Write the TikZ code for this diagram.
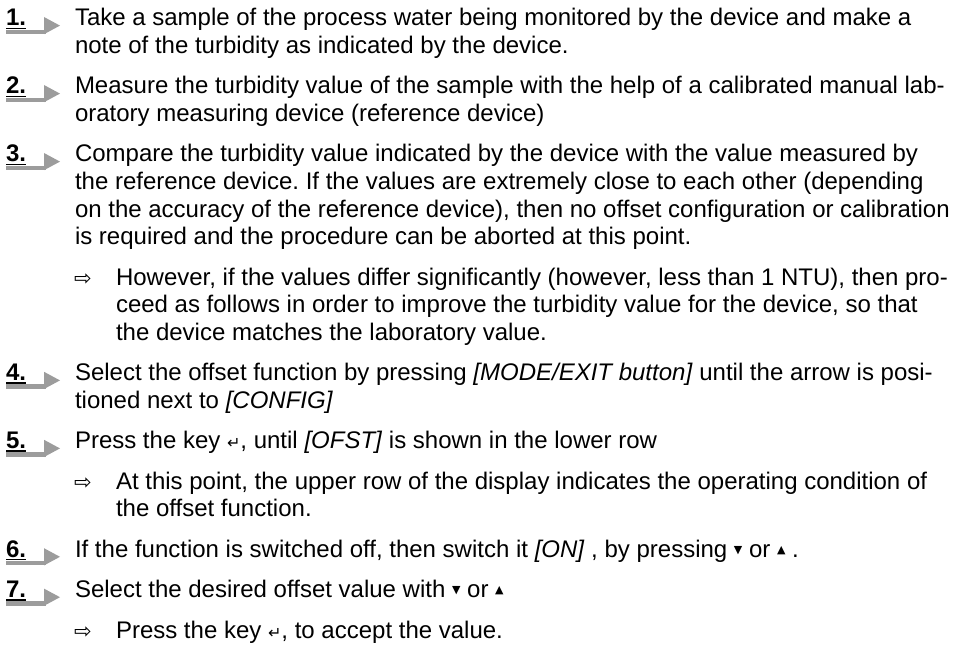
\documentclass[tikz,border=0pt]{standalone}
\usepackage{fontspec}
\setmainfont{Liberation Sans}
\newfontfamily\symf{DejaVu Sans}
\definecolor{markgray}{HTML}{9C9C9C}
\frenchspacing
\newcommand\dnarr{\raisebox{0.3ex}{\symf\fontsize{11}{11}\selectfont ▼}}
\newcommand\uparr{\raisebox{0.3ex}{\symf\fontsize{11}{11}\selectfont ▲}}
\newcommand\retkey{{\symf\fontsize{16}{16}\selectfont ↵}}
\newcommand\resarr{{\symf\fontsize{21}{21}\selectfont ⇨}}
\tikzset{
  txt/.style={anchor=base west, inner sep=0pt, outer sep=0pt, font=\fontsize{24}{28}\selectfont},
  numtxt/.style={txt, font=\fontsize{24}{28}\selectfont\bfseries},
  uline/.style={line width=1.6pt, black},
  markfill/.style={fill=markgray, draw=none}
}
\begin{document}
\begin{tikzpicture}[x=1pt,y=-1pt]
\useasboundingbox (0,0) rectangle (964,650);
% step markers
\foreach \n/\b in {1/26, 2/94, 3/162, 4/380.8, 5/448.8, 6/557.2, 7/597.6}{
  \node[numtxt] (num\n) at (6,\b) {\n.};
  \fill[markfill] (6,\b+3.6) rectangle (46,\b+8.2);
  \fill[markfill] (44,\b-9) -- (44,\b+8.2) -- (60,\b-0.4) -- cycle;
  \draw[uline] ([yshift=-2.4pt]num\n.base west) -- ([yshift=-2.4pt]num\n.base east);
}
% result arrows
\foreach \n/\b in {3/285.2, 5/489.2, 7/638}{
  \node[txt] (res\n) at (74,\b) {\resarr};
}
% step 1
\node[txt] (t1a) at (75,26) {Take a sample of the process water being monitored by the device and make a};
\node[txt] (t1b) at (75,53.6) {note of the turbidity as indicated by the device.};
% step 2
\node[txt] (t2a) at (75,94) {Measure the turbidity value of the sample with the help of a calibrated manual lab-};
\node[txt] (t2b) at (75,121.6) {oratory measuring device (reference device)};
% step 3
\node[txt] (t3a) at (75,162) {Compare the turbidity value indicated by the device with the value measured by};
\node[txt] (t3b) at (75,189.6) {the reference device. If the values are extremely close to each other (depending};
\node[txt] (t3c) at (75,217.2) {on the accuracy of the reference device), then no offset configuration or calibration};
\node[txt] (t3d) at (75,244.8) {is required and the procedure can be aborted at this point.};
% result 3
\node[txt] (r3a) at (116,285.2) {However, if the values differ significantly (however, less than 1 NTU), then pro-};
\node[txt] (r3b) at (116,312.8) {ceed as follows in order to improve the turbidity value for the device, so that};
\node[txt] (r3c) at (116,340.4) {the device matches the laboratory value.};
% step 4
\node[txt] (t4a) at (75,380.8) {Select the offset function by pressing \textit{[MODE/EXIT button]} until the arrow is posi-};
\node[txt] (t4b) at (75,408.4) {tioned next to \textit{[CONFIG]}};
% step 5
\node[txt] (t5a) at (75,448.8) {Press the key \retkey, until \textit{[OFST]} is shown in the lower row};
% result 5
\node[txt] (r5a) at (116,489.2) {At this point, the upper row of the display indicates the operating condition of};
\node[txt] (r5b) at (116,516.8) {the offset function.};
% step 6
\node[txt] (t6a) at (75,557.2) {If the function is switched off, then switch it \textit{[ON]} , by pressing \dnarr{} or \uparr{} .};
% step 7
\node[txt] (t7a) at (75,597.6) {Select the desired offset value with \dnarr{} or \uparr};
% result 7
\node[txt] (r7a) at (116,638) {Press the key \retkey, to accept the value.};
\end{tikzpicture}
\end{document}
